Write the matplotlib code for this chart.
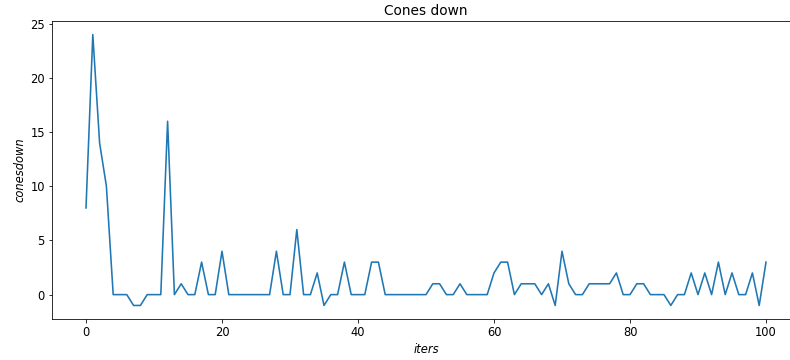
import matplotlib
matplotlib.use("Agg")
import matplotlib.pyplot as plt

iters = list(range(101))
conesdown = [8, 24, 14, 10, 0, 0, 0, -1, -1, 0,
             0, 0, 16, 0, 1, 0, 0, 3, 0, 0,
             4, 0, 0, 0, 0, 0, 0, 0, 4, 0,
             0, 6, 0, 0, 2, -1, 0, 0, 3, 0,
             0, 0, 3, 3, 0, 0, 0, 0, 0, 0,
             0, 1, 1, 0, 0, 1, 0, 0, 0, 0,
             2, 3, 3, 0, 1, 1, 1, 0, 1, -1,
             4, 1, 0, 0, 1, 1, 1, 1, 2, 0,
             0, 1, 1, 0, 0, 0, -1, 0, 0, 2,
             0, 2, 0, 3, 0, 2, 0, 0, 2, -1,
             3]

dpi = 72
fig = plt.figure(figsize=(790 / dpi, 360 / dpi), dpi=dpi)
ax = fig.add_axes([52 / 790, 41 / 360, 748 / 790, 298 / 360])
ax.plot(iters, conesdown, color="#1f77b4", linewidth=1.6)
ax.spines["right"].set_visible(False)
ax.set_title("Cones down", fontsize=13.8)
ax.set_xlabel("iters", fontstyle="italic", fontsize=11.5)
ax.set_ylabel("conesdown", fontstyle="italic", fontsize=11.5)
ax.tick_params(labelsize=11.5)
fig.savefig("out.png", dpi=dpi)
